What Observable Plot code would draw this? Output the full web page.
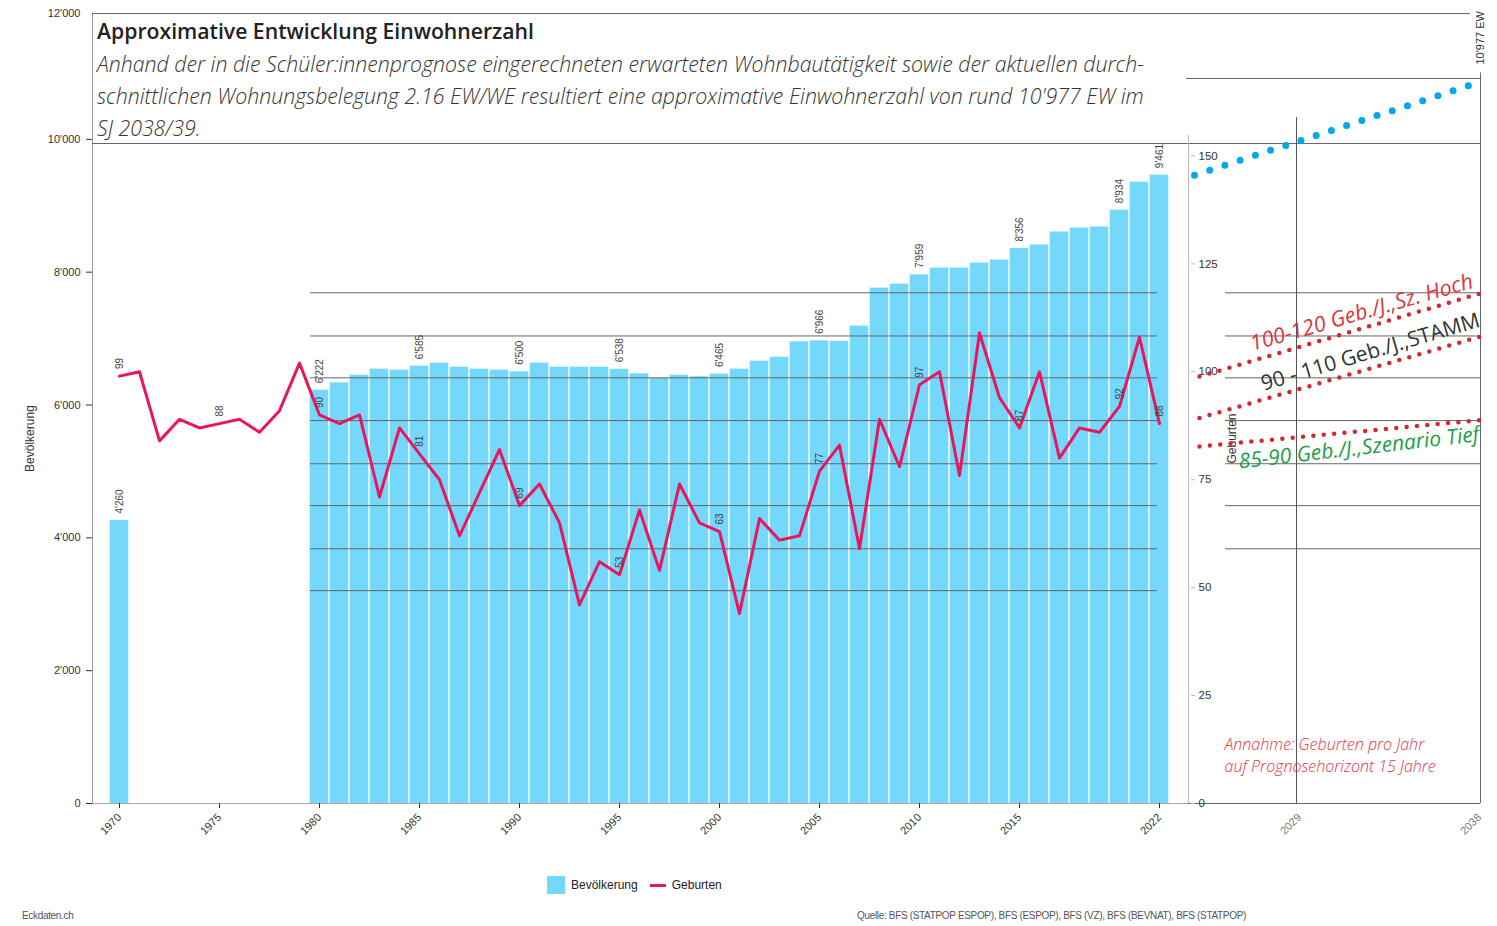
<!DOCTYPE html>
<html>
<head>
<meta charset="utf-8">
<script src="https://cdn.jsdelivr.net/npm/d3@7"></script>
<script src="https://cdn.jsdelivr.net/npm/@observablehq/plot@0.6"></script>
<style>
  body { margin: 0; background: #fff; }
  #wrap { position: relative; width: 1497px; height: 926px; background: #fff; overflow: hidden; }
  #chart { position: absolute; left: 0; top: 0; }
  .title { position: absolute; left: 97px; top: 19px; font-family: "Open Sans", sans-serif; font-weight: 600; font-size: 21.2px; line-height: 24px; color: #222; white-space: nowrap; }
  .subtitle { position: absolute; left: 97px; top: 48px; font-family: "Open Sans", sans-serif; font-weight: 300; font-style: italic; font-size: 21.3px; line-height: 32px; color: #333; white-space: pre; }
  .legend { position: absolute; top: 876px; left: 547px; font-family: "Liberation Sans", Arial, sans-serif; font-size: 12px; color: #222; display: flex; align-items: center; }
  .sw-bar { width: 18px; height: 18px; background: #74d7fc; margin-right: 6px; }
  .sw-line { width: 16px; height: 3px; background: #e8175d; margin-right: 6px; margin-left: 12px; }
  .foot { position: absolute; top: 910px; font-family: "Liberation Sans", Arial, sans-serif; font-size: 10px; letter-spacing: -0.33px; color: #555; }
</style>
</head>
<body>
<div id="wrap">
  <div id="chart"></div>
  <div class="title">Approximative Entwicklung Einwohnerzahl</div>
  <div class="subtitle">Anhand der in die Schüler:innenprognose eingerechneten erwarteten Wohnbautätigkeit sowie der aktuellen durch-
schnittlichen Wohnungsbelegung 2.16 EW/WE resultiert eine approximative Einwohnerzahl von rund 10'977 EW im
SJ 2038/39.</div>
  <div class="legend"><div class="sw-bar"></div><span>Bevölkerung</span><div class="sw-line"></div><span>Geburten</span></div>
  <div class="foot" style="left:22px">Eckdaten.ch</div>
  <div class="foot" style="left:857px">Quelle: BFS (STATPOP ESPOP), BFS (ESPOP), BFS (VZ), BFS (BEVNAT), BFS (STATPOP)</div>
</div>
<script>
// ---------- data ----------
const popYears = [1970,
  1980, 1981, 1982, 1983, 1984, 1985, 1986, 1987, 1988, 1989,
  1990, 1991, 1992, 1993, 1994, 1995, 1996, 1997, 1998, 1999,
  2000, 2001, 2002, 2003, 2004, 2005, 2006, 2007, 2008, 2009,
  2010, 2011, 2012, 2013, 2014, 2015, 2016, 2017, 2018, 2019,
  2020, 2021, 2022];
const population = [4260,
  6222, 6333, 6449, 6540, 6524, 6585, 6630, 6570, 6540, 6524,
  6500, 6630, 6570, 6570, 6570, 6538, 6470, 6400, 6449, 6425,
  6465, 6540, 6660, 6720, 6950, 6966, 6960, 7188, 7760, 7820,
  7959, 8062, 8062, 8137, 8182, 8356, 8410, 8605, 8665, 8680,
  8934, 9355, 9461];
const popLabelYears = [1970, 1980, 1985, 1990, 1995, 2000, 2005, 2010, 2015, 2020, 2022];

const birthYears = [1970, 1971, 1972, 1973, 1974, 1975, 1976, 1977, 1978, 1979,
  1980, 1981, 1982, 1983, 1984, 1985, 1986, 1987, 1988, 1989,
  1990, 1991, 1992, 1993, 1994, 1995, 1996, 1997, 1998, 1999,
  2000, 2001, 2002, 2003, 2004, 2005, 2006, 2007, 2008, 2009,
  2010, 2011, 2012, 2013, 2014, 2015, 2016, 2017, 2018, 2019,
  2020, 2021, 2022];
const births = [99, 100, 84, 89, 87, 88, 89, 86, 91, 102,
  90, 88, 90, 71, 87, 81, 75, 62, 72, 82,
  69, 74, 65, 46, 56, 53, 68, 54, 74, 65,
  63, 44, 66, 61, 62, 77, 83, 59, 89, 78,
  97, 100, 76, 109, 94, 87, 100, 80, 87, 86,
  92, 108, 88];
const birthLabelYears = [1970, 1975, 1980, 1985, 1990, 1995, 2000, 2005, 2010, 2015, 2020, 2022];

// projection of population (blue dotted)
const projYears = [2023.75, 2038];
const projPop = [9461, 10860];

// birth scenarios (red dotted)
const scenYears = [2024, 2038];
const scenHoch = [98.9, 118.1];
const scenStamm = [89.3, 108.1];
const scenTief = [82.7, 88.8];

// tick labels
const popTicks = [0, 2000, 4000, 6000, 8000, 10000];
const birthTicks = [0, 25, 50, 75, 100, 125, 150];
const xTicks = [1970, 1975, 1980, 1985, 1990, 1995, 2000, 2005, 2010, 2015, 2022];
const xTicksFuture = [2029, 2038];
const gridBirths = [118.3, 108.3, 98.6, 88.7, 78.7, 69, 59, 49.3];
const gridBirthsRight = [118.3, 108.3, 98.6, 88.7, 78.7, 69, 59];

// ---------- build ----------
const K = 65; // one birth in population-axis units (dual axis)
const fmt = d => d3.format(",")(d).replace(/,/g, "'");
const popData = popYears.map((y, i) => ({year: y, value: population[i]}));
const birthData = birthYears.map((y, i) => ({year: y, value: births[i]}));
const projData = projYears.map((y, i) => ({year: y, value: projPop[i]}));
const scen = (arr) => scenYears.map((y, i) => ({year: y, value: arr[i]}));

const xL = 1968.65, xR = 2038.05, xAxisR = 2023.45, xMid = 2028.85;
const lineCol = "#666";
const labelFont = "'Open Sans', sans-serif";

const chart = Plot.plot({
  width: 1497,
  height: 860,
  marginLeft: 92, marginRight: 17, marginTop: 6, marginBottom: 57,
  x: {type: "linear", domain: [1970, 2038], range: [119, 1479]},
  y: {domain: [0, 12000], range: [803, 6]},
  style: {fontFamily: "'Liberation Sans', Arial, sans-serif", fontSize: "11px", background: "transparent", overflow: "visible"},
  marks: [
    // bars
    Plot.rectY(popData, {x1: d => d.year - 0.5, x2: d => d.year + 0.5, y: "value", fill: "#74d7fc", insetLeft: 0.7, insetRight: 0.7}),
    // grid lines over bars
    Plot.ruleY(gridBirths, {y: d => d * K, x1: 1979.55, x2: 2021.9, stroke: lineCol, strokeWidth: 1}),
    Plot.ruleY(gridBirthsRight, {y: d => d * K, x1: 2025.3, x2: xR, stroke: lineCol, strokeWidth: 1}),
    // frame lines
    Plot.ruleX([xL], {y1: 0, y2: 11894, stroke: "#999"}),
    Plot.ruleY([11894], {x1: xL, x2: 2037.55, stroke: lineCol}),
    Plot.ruleY([9937], {x1: xL, x2: xR, stroke: lineCol}),
    Plot.ruleY([10916], {x1: 2023.35, x2: xR, stroke: lineCol}),
    Plot.ruleX([xR], {y1: 0, y2: 11000, stroke: lineCol}),
    Plot.ruleX([xMid], {y1: 0, y2: 10328, stroke: "#555"}),
    Plot.ruleX([xAxisR], {y1: 0, y2: 10057, stroke: "#bbb"}),
    Plot.ruleY([0], {x1: xL, x2: xAxisR, stroke: "#aaa"}),
    Plot.ruleY([0], {x1: xAxisR, x2: xR, stroke: lineCol}),
    // left axis
    Plot.axisY({ticks: popTicks, tickFormat: fmt, tickSize: 6, tickPadding: 6, color: "#333", label: null}),
    Plot.text(["12'000"], {x: xL, y: 12000, dx: -12, dy: 7, textAnchor: "end", fill: "#333"}),
    Plot.text(["Bevölkerung"], {x: 1965.55, y: 5495, rotate: -90, fontSize: 12, fill: "#333"}),
    // right (births) axis
    Plot.ruleY(birthTicks, {y: d => d * K, x1: xAxisR + 0.15, x2: xAxisR + 0.35, stroke: "#bbb"}),
    Plot.text(birthTicks, {x: xAxisR, y: d => d * K, text: d => String(d), dx: 10, textAnchor: "start", fontSize: 11.5, fill: "#333"}),
    Plot.text(["Geburten"], {x: 2025.65, y: 5495, rotate: -90, fontSize: 12, fill: "#333"}),
    // x axis
    Plot.axisX({ticks: xTicks, tickFormat: d => String(d), tickRotate: -45, tickSize: 5, tickPadding: 7, color: "#333", label: null}),
    Plot.axisX({ticks: xTicksFuture, tickFormat: d => String(d), tickRotate: -45, tickSize: 0, tickPadding: 12, color: "#777", label: null}),
    // births line
    Plot.line(birthData, {x: "year", y: d => d.value * K, stroke: "#e8175d", strokeWidth: 3}),
    // labels
    Plot.text(popData.filter(d => popLabelYears.includes(d.year)), {x: "year", y: "value", text: d => fmt(d.value), rotate: -90, textAnchor: "start", dy: -7, fontSize: 10, fill: "#444"}),
    Plot.text(birthData.filter(d => birthLabelYears.includes(d.year)), {x: "year", y: d => d.value * K, text: d => String(d.value), rotate: -90, textAnchor: "start", dy: -7, fontSize: 10, fill: "#444"}),
    // projection
    Plot.line(projData, {x: "year", y: "value", stroke: "#02a9ea", strokeWidth: 7, strokeLinecap: "round", strokeDasharray: "0,16"}),
    Plot.text(["10'977 EW"], {x: xR, y: 10916, rotate: -90, textAnchor: "start", dy: -14, fontSize: 11, fill: "#333"}),
    // scenarios
    Plot.line(scen(scenHoch), {x: "year", y: d => d.value * K, stroke: "#d7262e", strokeWidth: 4.5, strokeLinecap: "round", strokeDasharray: "0,10.4"}),
    Plot.line(scen(scenStamm), {x: "year", y: d => d.value * K, stroke: "#d7262e", strokeWidth: 4.5, strokeLinecap: "round", strokeDasharray: "0,10.4"}),
    Plot.line(scen(scenTief), {x: "year", y: d => d.value * K, stroke: "#d7262e", strokeWidth: 4.5, strokeLinecap: "round", strokeDasharray: "0,10.4"}),
    Plot.text(["100-120 Geb./J.,Sz. Hoch"], {x: 2026.65, y: 104.8 * K, rotate: -16, textAnchor: "start", lineAnchor: "bottom", fontSize: 21.5, fill: "#e0343c", fontStyle: "italic", fontFamily: labelFont, fontWeight: 400}),
    Plot.text(["90 - 110 Geb./J.,STAMM"], {x: 2027.2, y: 95.6 * K, rotate: -16.5, textAnchor: "start", lineAnchor: "bottom", fontSize: 21, fill: "#333", fontFamily: labelFont, fontWeight: 400}),
    Plot.text(["85-90 Geb./J.,Szenario Tief"], {x: 2026.0, y: 77.6 * K, rotate: -6.5, textAnchor: "start", lineAnchor: "bottom", fontSize: 21, fill: "#1e9e48", fontStyle: "italic", fontFamily: labelFont, fontWeight: 400}),
    Plot.text(["Annahme: Geburten pro Jahr\nauf Prognosehorizont 15 Jahre"], {x: 2025.25, y: 7.2 * K, textAnchor: "start", lineAnchor: "bottom", lineHeight: 1.4, fontSize: 16, fill: "#e0343c", fontStyle: "italic", fontFamily: labelFont, fontWeight: 300})
  ]
});
document.getElementById("chart").appendChild(chart);
</script>
</body>
</html>
